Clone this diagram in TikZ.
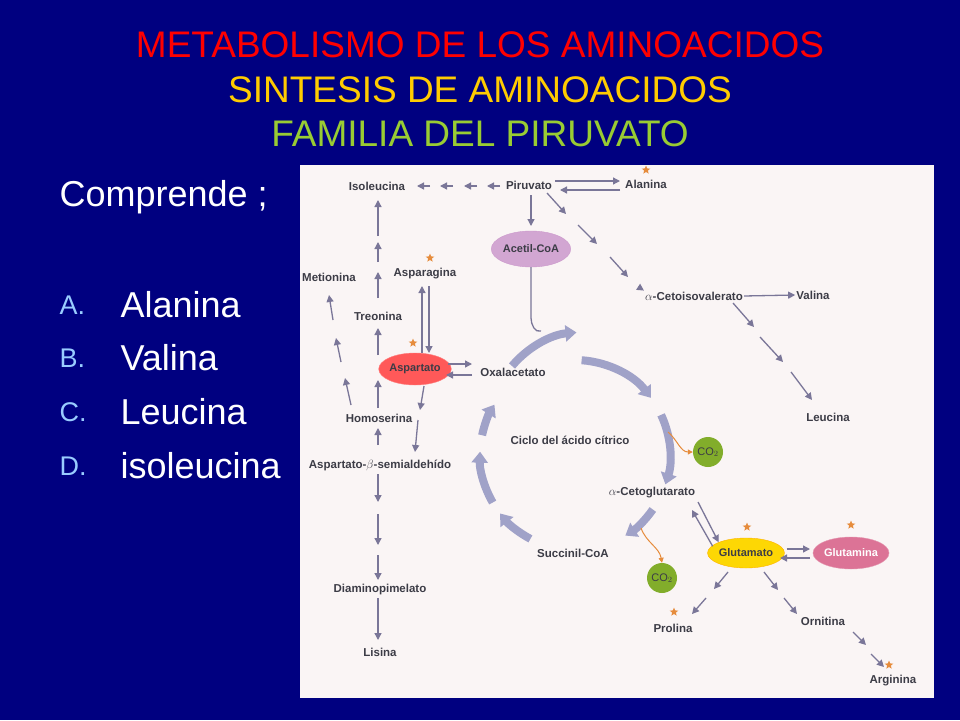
\documentclass[tikz,border=0pt]{standalone}
\usepackage{fontspec}
\setmainfont{Liberation Sans}
\usetikzlibrary{arrows.meta,shapes.geometric}
\definecolor{navy}{RGB}{0,0,128}
\definecolor{panel}{RGB}{250,245,245}
\definecolor{arc}{RGB}{122,118,152}
\definecolor{cyc}{RGB}{160,162,200}
\definecolor{ttl1}{RGB}{255,0,0}
\definecolor{ttl2}{RGB}{255,204,0}
\definecolor{ttl3}{RGB}{153,204,51}
\definecolor{lbl}{RGB}{153,204,255}
\definecolor{txt}{RGB}{60,60,70}
\definecolor{starc}{RGB}{230,140,60}
\tikzset{
  lab/.style={font=\fontsize{11.5}{13}\selectfont\bfseries, text=txt, inner sep=1pt},
  ar/.style={draw=arc, line width=1.3pt, -{Triangle[width=7pt,length=7pt]}},
  cy/.style={draw=cyc, line width=8pt, -{Triangle[width=16pt,length=11pt]}},
  co/.style={draw=starc, line width=1pt, -{Triangle[width=5pt,length=5pt]}},
  ell/.style={ellipse, minimum width=#1, minimum height=32pt, inner sep=0pt, font=\fontsize{11}{12}\selectfont\bfseries},
  cod/.style={circle, fill=ttl3!85!black, minimum size=30pt, inner sep=0pt, font=\fontsize{11}{12}\selectfont, text=txt},
  st/.style={shape=star, star points=5, star point ratio=2.3, fill=starc, minimum size=9pt, inner sep=0pt}
}
\begin{document}
\begin{tikzpicture}[x=1pt,y=-1pt]
\fill[navy] (0,0) rectangle (960,720);
\useasboundingbox (0,0) rectangle (960,720);
\fill[panel] (300,165) rectangle (934,698);
% titles
\node[text=ttl1, font=\fontsize{37}{38}\selectfont] (t1) at (480,45) {METABOLISMO DE LOS AMINOACIDOS};
\node[text=ttl2, font=\fontsize{37}{38}\selectfont] (t2) at (480,90) {SINTESIS DE AMINOACIDOS};
\node[text=ttl3, font=\fontsize{37}{38}\selectfont] (t3) at (480,134) {FAMILIA DEL PIRUVATO};
\node[text=white, anchor=west, font=\fontsize{36}{38}\selectfont] (comp) at (56,197) {Comprende ;};
\foreach \l/\w/\y in {A/Alanina/305,B/Valina/358,C/Leucina/412,D/isoleucina/466}{
  \node[text=lbl, anchor=west, font=\fontsize{27}{28}\selectfont] (l\l) at (56,\y) {\l.};
  \node[text=white, anchor=west, font=\fontsize{36}{38}\selectfont] (w\l) at (117,\y) {\w};
}
% nodes
\node[lab] (iso) at (377,186) {Isoleucina};
\node[lab] (pir) at (529,185) {Piruvato};
\node[lab] (ala) at (646,184) {Alanina};
\node[ell=72pt, fill=violet!35!white, draw=violet!40!white, minimum height=36pt, text=txt] (ace) at (531,249) {Acetil-CoA};
\node[lab] (ceto) at (694,296) {$\alpha$-Cetoisovalerato};
\node[lab] (val) at (813,295) {Valina};
\node[lab] (leu) at (828,417) {Leucina};
\node[lab] (met) at (329,277) {Metionina};
\node[lab] (asn) at (425,274) {Asparagina};
\node[lab] (tre) at (378,316) {Treonina};
\node[ell=60pt, fill=red!65!white, draw=red!50!white, text=txt] (asp) at (415,369) {Aspartato};
\node[lab] (oxa) at (513,372) {Oxalacetato};
\node[lab] (hom) at (379,418) {Homoserina};
\node[lab] (asa) at (380,465) {Aspartato-$\beta$-semialdehído};
\node[lab] (dap) at (380,590) {Diaminopimelato};
\node[lab] (lis) at (380,652) {Lisina};
\node[lab] (cic) at (570,440) {Ciclo del ácido cítrico};
\node[cod] (co1) at (708,452) {CO$_2$};
\node[lab] (akg) at (652,493) {$\alpha$-Cetoglutarato};
\node[lab] (suc) at (573,553) {Succinil-CoA};
\node[cod] (co2) at (662,578) {CO$_2$};
\node[ell=62pt, fill=yellow!75!orange, draw=orange!60!yellow, text=txt, minimum height=30pt] (glu) at (746,553) {Glutamato};
\node[ell=64pt, fill=purple!55!white, draw=purple!40!white, text=white] (gln) at (851,553) {Glutamina};
\node[lab] (pro) at (673,628) {Prolina};
\node[lab] (orn) at (823,621) {Ornitina};
\node[lab] (arg) at (893,681) {Arginina};
\foreach \x/\y in {430/258,413/343,747/527,851/525,674/612,889/665,646/170}{ \node[st] at (\x,\y) {}; }
% pyruvate -> isoleucine
\foreach \a in {500,477,453,430}{ \draw[ar] (\a,186) -- (\a-13,186); }
% pyruvate <-> alanine
\draw[ar] (555,181) -- (620,181);
\draw[ar] (620,190) -- (560,190);
\draw[ar] (531,195) -- (531,226);
% pyruvate -> cetoisovalerato
\draw[ar] (547,193) -- (566,214);
\draw[ar] (578,225) -- (597,244);
\draw[ar] (610,257) -- (628,277);
\draw[ar] (640,288) -- (ceto.north west);
\draw[ar] (ceto.east) -- (val.west);
\draw[ar] (733,303) -- (754,327);
\draw[ar] (760,337) -- (783,362);
\draw[ar] (791,372) -- (812,400);
% Acetil-CoA into cycle
\draw[arc, line width=1.3pt] (ace.south) -- (531,318) to[out=-90,in=200] (541,331);
% left column
\draw[ar] (378,236) -- (378,200);
\draw[ar] (378,262) -- (378,242);
\draw[ar] (378,298) -- (378,272);
\draw[ar] (378,355) -- (378,328);
\draw[ar] (378,408) -- (378,380);
\draw[ar] (378,445) -- (378,428);
\draw[ar] (378,474) -- (378,502);
\draw[ar] (378,514) -- (378,545);
\draw[ar] (378,555) -- (378,580);
\draw[ar] (378,598) -- (378,640);
% metionina
\draw[ar] (351,405) -- (345,378);
\draw[ar] (341,362) -- (336,338);
\draw[ar] (333,320) -- (329,295);
% asparagina/aspartato
\draw[ar] (422,353) -- (422,286);
\draw[ar] (429,286) -- (429,353);
\draw[ar] (448,364) -- (472,364);
\draw[ar] (472,375) -- (446,375);
\draw[ar] (424,386) -- (420,410);
\draw[ar] (418,420) -- (415,452);
% cycle
\draw[cy] (512,366) arc (-140:-95:95);
\draw[cy] (575,455) ++(-86:95) arc (-86:-37:95);
\draw[cy] (575,455) ++(-25:95) arc (-25:18:95);
\draw[cy] (575,455) ++(35:95) arc (35:58:95);
\draw[cy] (575,455) ++(118:95) arc (118:142:95);
\draw[cy] (575,455) ++(150:95) arc (150:182:95);
\draw[cy] (575,455) ++(192:95) arc (192:212:95);
% CO2 side arrows
\draw[co] (668,432) to[out=-40,in=180] (co1.west);
\draw[co] (641,528) to[out=-70,in=100] (co2.north);
% glutamate
\draw[ar] (698,502) -- (glu.north west);
\draw[ar] (glu.north west) ++(-6,4) -- (692,510);
\draw[ar] (glu.east) ++(2,-4) -- (810,549);
\draw[ar] (810,558) -- (780,558);
\draw[ar] (728,572) -- (714,589);
\draw[ar] (706,598) -- (692,614);
\draw[ar] (764,572) -- (778,590);
\draw[ar] (784,598) -- (797,614);
\draw[ar] (853,632) -- (866,645);
\draw[ar] (871,654) -- (884,667);
\end{tikzpicture}
\end{document}
